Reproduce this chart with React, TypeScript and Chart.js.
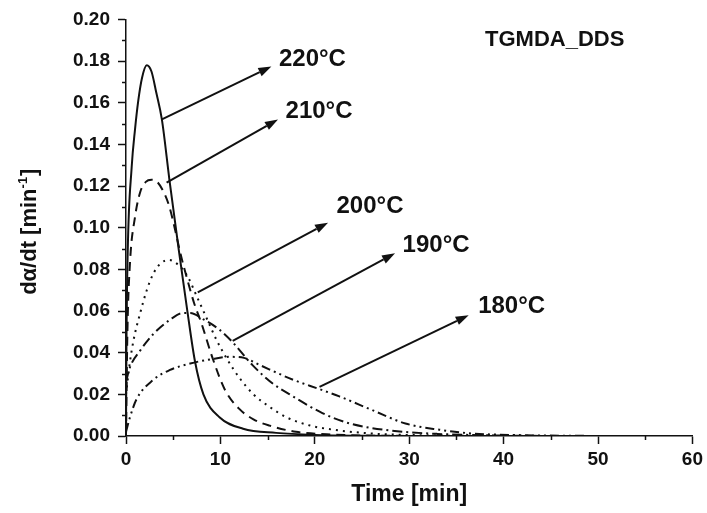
import React, { useEffect, useRef } from "react";
import { Chart, registerables } from "chart.js";

Chart.register(...registerables);

// ---- data (time in min, rate in 1/min) ----
const t220 = [0, 0.05, 0.18, 0.6, 0.95, 1.3, 1.7, 2.2, 2.7, 3.2, 3.8, 4.6, 5.6, 6.5, 7.3, 8.2, 9.9, 12.4, 15.9, 20, 25, 30];
const y220 = [0.0, 0.045, 0.088, 0.129, 0.147, 0.161, 0.172, 0.178, 0.175, 0.165, 0.152, 0.123, 0.089, 0.06, 0.036, 0.02, 0.009, 0.0035, 0.0015, 0.0005, 0.0001, 0];

const t210 = [0, 0.15, 0.42, 0.95, 1.5, 2.1, 2.7, 3.3, 4.0, 4.6, 5.2, 5.8, 6.5, 7.2, 8.0, 9.2, 10.5, 12.0, 13.5, 15.2, 18, 22, 28, 35];
const y210 = [0.0, 0.05, 0.083, 0.105, 0.117, 0.122, 0.123, 0.122, 0.117, 0.11, 0.099, 0.087, 0.075, 0.064, 0.054, 0.037, 0.022, 0.013, 0.008, 0.005, 0.002, 0.0007, 0.0001, 0];

const t200 = [0, 0.4, 0.8, 1.5, 2.2, 2.9, 3.7, 4.6, 5.3, 6.0, 6.6, 7.5, 8.5, 9.6, 10.7, 12.0, 13.5, 15.2, 17, 19.5, 22, 26, 32, 40];
const y200 = [0.02, 0.035, 0.046, 0.059, 0.07, 0.078, 0.083, 0.0845, 0.083, 0.08, 0.076, 0.067, 0.057, 0.046, 0.037, 0.028, 0.02, 0.014, 0.009, 0.005, 0.003, 0.0012, 0.0003, 0];

const t190 = [0, 0.42, 1.5, 2.9, 4.6, 6.0, 6.8, 8.2, 9.9, 11.3, 13.4, 15.6, 17.7, 20.8, 23.7, 27.9, 33, 39, 45];
const y190 = [0.026, 0.033, 0.041, 0.049, 0.0556, 0.059, 0.059, 0.056, 0.051, 0.045, 0.034, 0.025, 0.019, 0.011, 0.006, 0.0027, 0.001, 0.0003, 0];

const t180 = [0, 0.42, 1.1, 2.9, 4.6, 6.8, 9.2, 11.0, 12.5, 14.2, 17.7, 20.5, 22.6, 26.1, 29.6, 33.2, 36.7, 42, 50];
const y180 = [0.002, 0.009, 0.0175, 0.027, 0.0316, 0.0348, 0.037, 0.038, 0.0375, 0.034, 0.027, 0.0225, 0.019, 0.0124, 0.006, 0.003, 0.0012, 0.0004, 0];

const seriesNames = ["220°C", "210°C", "200°C", "190°C", "180°C"];

// annotation arrows (data units): start point, tip, label anchor
const arrowFromX = [3.8, 4.3, 7.6, 11.3, 20.5];
const arrowFromY = [0.152, 0.1216, 0.069, 0.0457, 0.0236];
const arrowToX = [15.4, 16.1, 21.4, 28.5, 36.3];
const arrowToY = [0.1774, 0.152, 0.1024, 0.0877, 0.058];
const labelX = [16.2, 16.9, 22.3, 29.3, 37.3];
const labelY = [0.1807, 0.1558, 0.11, 0.0917, 0.0624];

const xTicksMajor = [0, 10, 20, 30, 40, 50, 60];
const xTicksMinor = [5, 15, 25, 35, 45, 55];
const yTicksMinor = [0.01, 0.03, 0.05, 0.07, 0.09, 0.11, 0.13, 0.15, 0.17, 0.19];

const chartTitle = "TGMDA_DDS";
const xTitle = "Time [min]";
const yTitleMain = "dα/dt [min";
const yTitleSup = "-1";
const yTitleEnd = "]";

const FONT = "'Liberation Sans', Arial, Helvetica, sans-serif";

const toPts = (ts: number[], ys: number[]) => ts.map((t, i) => ({ x: t, y: ys[i] }));

const annotPlugin = {
  id: "annot",
  afterDatasetsDraw(chart: any) {
    const ctx = chart.ctx as CanvasRenderingContext2D;
    const xs = chart.scales.x;
    const ys = chart.scales.y;
    const area = chart.chartArea;
    ctx.save();
    ctx.strokeStyle = "#111";
    ctx.fillStyle = "#111";
    ctx.lineWidth = 2;
    ctx.setLineDash([]);
    // arrows
    for (let i = 0; i < arrowFromX.length; i++) {
      const x1 = xs.getPixelForValue(arrowFromX[i]);
      const y1 = ys.getPixelForValue(arrowFromY[i]);
      const x2 = xs.getPixelForValue(arrowToX[i]);
      const y2 = ys.getPixelForValue(arrowToY[i]);
      const ang = Math.atan2(y2 - y1, x2 - x1);
      const hl = 13, hw = 4.5;
      const bx = x2 - hl * Math.cos(ang);
      const by = y2 - hl * Math.sin(ang);
      ctx.beginPath();
      ctx.moveTo(x1, y1);
      ctx.lineTo(bx, by);
      ctx.stroke();
      ctx.beginPath();
      ctx.moveTo(x2, y2);
      ctx.lineTo(bx + hw * Math.sin(ang), by - hw * Math.cos(ang));
      ctx.lineTo(bx - hw * Math.sin(ang), by + hw * Math.cos(ang));
      ctx.closePath();
      ctx.fill();
      // label
      ctx.font = `bold 24px ${FONT}`;
      ctx.textAlign = "left";
      ctx.textBaseline = "middle";
      ctx.fillText(seriesNames[i], xs.getPixelForValue(labelX[i]), ys.getPixelForValue(labelY[i]));
    }
    // minor ticks
    ctx.lineWidth = 1.5;
    for (const v of yTicksMinor) {
      const py = Math.round(ys.getPixelForValue(v)) + 0.5;
      ctx.beginPath();
      ctx.moveTo(area.left - 4, py);
      ctx.lineTo(area.left, py);
      ctx.stroke();
    }
    for (const v of xTicksMinor) {
      const px = Math.round(xs.getPixelForValue(v)) + 0.5;
      ctx.beginPath();
      ctx.moveTo(px, area.bottom);
      ctx.lineTo(px, area.bottom + 4);
      ctx.stroke();
    }
    // chart title
    ctx.font = `bold 22px ${FONT}`;
    ctx.textAlign = "left";
    ctx.textBaseline = "middle";
    ctx.fillText(chartTitle, 485, 40);
    // x title
    ctx.font = `bold 23px ${FONT}`;
    ctx.textAlign = "center";
    ctx.fillText(xTitle, (area.left + area.right) / 2, 495);
    // y title with superscript
    ctx.translate(28, (area.top + area.bottom) / 2 + 4);
    ctx.rotate(-Math.PI / 2);
    const mainFont = `bold 22px ${FONT}`;
    const supFont = `bold 13px ${FONT}`;
    ctx.font = mainFont;
    const w1 = ctx.measureText(yTitleMain).width;
    const w3 = ctx.measureText(yTitleEnd).width;
    ctx.font = supFont;
    const w2 = ctx.measureText(yTitleSup).width;
    const total = w1 + w2 + w3 + 1;
    let cx = -total / 2;
    ctx.textAlign = "left";
    ctx.textBaseline = "alphabetic";
    ctx.font = mainFont;
    ctx.fillText(yTitleMain, cx, 8);
    cx += w1;
    ctx.font = supFont;
    ctx.fillText(yTitleSup, cx, -1);
    cx += w2 + 1;
    ctx.font = mainFont;
    ctx.fillText(yTitleEnd, cx, 8);
    ctx.restore();
  },
};

export default function App() {
  const ref = useRef<HTMLCanvasElement | null>(null);
  useEffect(() => {
    if (!ref.current) return;
    const common = {
      borderColor: "#111",
      borderWidth: 2,
      pointRadius: 0,
      fill: false,
      cubicInterpolationMode: "monotone" as const,
    };
    const chart = new Chart(ref.current, {
      type: "line",
      data: {
        datasets: [
          { ...common, label: seriesNames[0], data: toPts(t220, y220), borderDash: [] },
          { ...common, label: seriesNames[1], data: toPts(t210, y210), borderDash: [9, 6] },
          { ...common, label: seriesNames[2], data: toPts(t200, y200), borderDash: [2, 5] },
          { ...common, label: seriesNames[3], data: toPts(t190, y190), borderDash: [10, 4, 2, 4] },
          { ...common, label: seriesNames[4], data: toPts(t180, y180), borderDash: [9, 4, 2, 4, 2, 4] },
        ],
      },
      options: {
        responsive: false,
        animation: false,
        layout: { padding: { top: 19, right: 12, left: 0, bottom: 0 } },
        plugins: { legend: { display: false }, tooltip: { enabled: false }, title: { display: false } },
        scales: {
          x: {
            type: "linear",
            min: 0,
            max: 60,
            afterBuildTicks: (s: any) => {
              s.ticks = xTicksMajor.map((v) => ({ value: v }));
            },
            ticks: {
              color: "#111",
              font: { family: FONT, size: 19, weight: "bold" },
              padding: 4,
              maxRotation: 0,
              callback: (v: any) => String(v),
            },
            grid: { drawOnChartArea: false, drawTicks: true, tickLength: 8, tickColor: "#111", tickWidth: 1.5 },
            border: { display: true, color: "#111", width: 1.5 },
            afterFit: (s: any) => {
              s.height = 77;
            },
          },
          y: {
            type: "linear",
            min: 0,
            max: 0.2,
            ticks: {
              stepSize: 0.02,
              color: "#111",
              font: { family: FONT, size: 19, weight: "bold" },
              padding: 8,
              callback: (v: any) => Number(v).toFixed(2),
            },
            grid: { drawOnChartArea: false, drawTicks: true, tickLength: 8, tickColor: "#111", tickWidth: 1.5 },
            border: { display: true, color: "#111", width: 1.5 },
            afterFit: (s: any) => {
              s.width = 126;
            },
          },
        },
      },
      plugins: [annotPlugin],
    });
    return () => chart.destroy();
  }, []);
  return (
    <div style={{ position: "fixed", left: 0, top: 0, width: 707, height: 513, background: "#fff" }}>
      <canvas ref={ref} width={707} height={513} style={{ width: 707, height: 513, display: "block" }} />
    </div>
  );
}
